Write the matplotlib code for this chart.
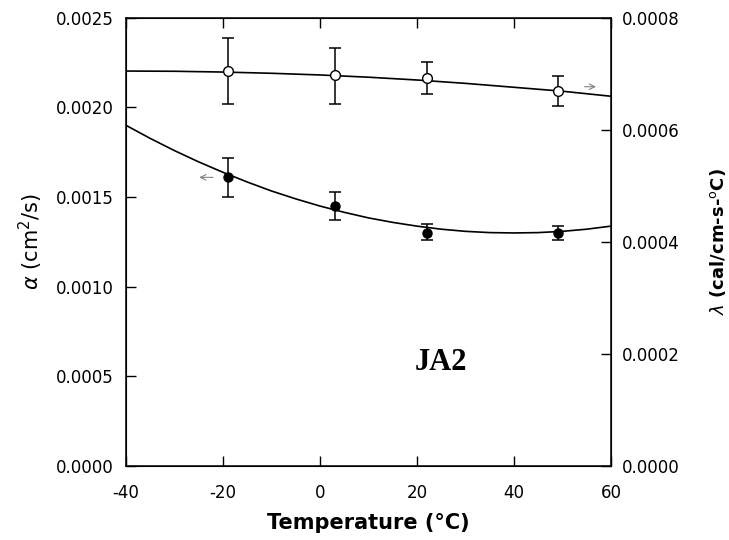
import matplotlib.pyplot as plt
import numpy as np

# measured points
temp = [-19, 3, 22, 49]
alpha = [0.00161, 0.00145, 0.00130, 0.00130]
alpha_lo = [0.00150, 0.00137, 0.00126, 0.00126]
alpha_hi = [0.00172, 0.00153, 0.00135, 0.00134]
lam = [0.000705, 0.000698, 0.000693, 0.000670]
lam_lo = [0.000646, 0.000646, 0.000664, 0.000643]
lam_hi = [0.000764, 0.000746, 0.000721, 0.000696]

# fitted curves
fit_t_alpha = [-40, -35, -30, -25, -20, -15, -10, -5, 0, 5, 10, 15, 20, 25, 30, 35, 40, 45, 50, 55, 60]
fit_alpha = [0.00190, 0.001827, 0.001759, 0.001696, 0.001638, 0.001584, 0.001534, 0.00149, 0.00145,
             0.001415, 0.001384, 0.001359, 0.001338, 0.001321, 0.001309, 0.001302, 0.00130, 0.001302,
             0.001309, 0.001321, 0.001338]
fit_t_lam = [-40, -30, -20, -10, 0, 10, 20, 30, 40, 50, 60]
fit_lam = [0.000705, 0.0007046, 0.0007032, 0.000701, 0.000698, 0.000694, 0.000689, 0.000683,
           0.000676, 0.000669, 0.00066]

plt.rcParams['font.family'] = ['DejaVu Sans']

fig = plt.figure(figsize=(7.29, 5.4), dpi=100)
ax1 = fig.add_axes([0.173, 0.137, 0.665, 0.83])
ax2 = ax1.twinx()

# alpha (left axis)
ax1.plot(fit_t_alpha, fit_alpha, color='black', linewidth=1.2)
a = np.array(alpha)
ax1.errorbar(temp, alpha, yerr=[a - np.array(alpha_lo), np.array(alpha_hi) - a],
             fmt='o', color='black', markersize=6.5, capsize=4.5, elinewidth=1.1, capthick=1.1)

# lambda (right axis)
ax2.plot(fit_t_lam, fit_lam, color='black', linewidth=1.2)
l = np.array(lam)
ax2.errorbar(temp, lam, yerr=[l - np.array(lam_lo), np.array(lam_hi) - l],
             fmt='o', color='black', mfc='white', markersize=7, capsize=4.5,
             elinewidth=1.1, capthick=1.1, zorder=3)

# direction arrows
ax1.annotate('', xy=(-25.5, 0.00161), xytext=(-21.5, 0.00161),
             arrowprops=dict(arrowstyle='->', color='grey', lw=0.8))
ax2.annotate('', xy=(57.5, 0.000677), xytext=(54, 0.000677),
             arrowprops=dict(arrowstyle='->', color='grey', lw=0.8))

ax1.text(19.6, 0.00058, 'JA2', fontsize=22, fontweight='bold', family='Liberation Serif',
         va='center', ha='left')

ax1.set_xlim(-40, 60)
ax1.set_ylim(0, 0.0025)
ax2.set_ylim(0, 0.0008)
ax1.set_xticks([-40, -20, 0, 20, 40, 60])
ax1.set_xticklabels(['-40', '-20', '0', '20', '40', '60'])
ax1.set_yticks([0, 0.0005, 0.001, 0.0015, 0.002, 0.0025])
ax2.set_yticks([0, 0.0002, 0.0004, 0.0006, 0.0008])
ax1.yaxis.set_major_formatter(plt.FormatStrFormatter('%.4f'))
ax2.yaxis.set_major_formatter(plt.FormatStrFormatter('%.4f'))

ax1.tick_params(axis='y', direction='in', length=7, width=1, labelsize=12, pad=9)
ax1.tick_params(axis='x', direction='in', length=7, width=1, labelsize=12, top=True, pad=13)
ax2.tick_params(direction='in', length=7, width=1, labelsize=12, pad=8)

ax1.set_xlabel('Temperature (°C)', fontsize=15, fontweight='bold', labelpad=8)
ax1.set_ylabel(r'$\alpha$ (cm$^2$/s)', fontsize=15, labelpad=8)
ax2.set_ylabel(r'$\lambda$ (cal/cm-s-$^{\mathrm{o}}$C)', fontsize=13, fontweight='bold', labelpad=20)

for s in ax1.spines.values():
    s.set_linewidth(1.1)

plt.savefig('out.png', dpi=100)
